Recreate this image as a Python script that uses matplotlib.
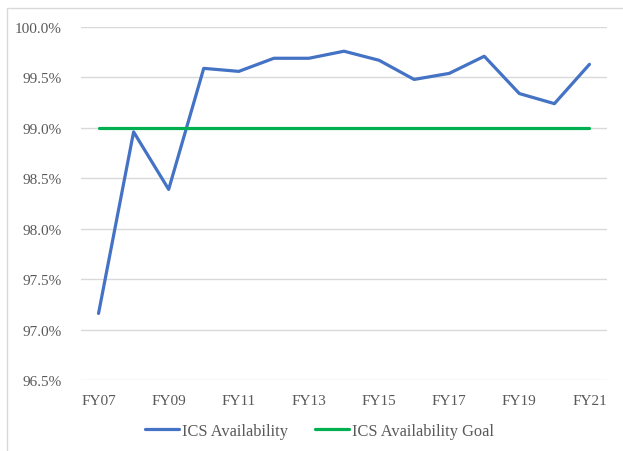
import matplotlib
matplotlib.use("Agg")
import matplotlib.pyplot as plt
from matplotlib.patches import Rectangle
from matplotlib.ticker import FuncFormatter

# ---- Data ----
years = ["FY07", "FY08", "FY09", "FY10", "FY11", "FY12", "FY13", "FY14",
         "FY15", "FY16", "FY17", "FY18", "FY19", "FY20", "FY21"]
availability = [97.16, 98.96, 98.39, 99.59, 99.56, 99.69, 99.69, 99.76,
                99.67, 99.48, 99.54, 99.71, 99.34, 99.24, 99.63]
goal = [99.0] * len(years)

BLUE = "#4472C4"
GREEN = "#00B050"
TEXT = "#595959"
GRID = "#D9D9D9"

plt.rcParams["font.family"] = ["Liberation Serif", "DejaVu Serif"]

fig = plt.figure(figsize=(6.23, 4.52), dpi=100)
ax = fig.add_axes([81 / 623, 1 - 381 / 452, 526 / 623, 353 / 452])

x = list(range(len(years)))
ax.plot(x, availability, color=BLUE, lw=2.3, solid_capstyle="round",
        label="ICS Availability")
ax.plot(x, goal, color=GREEN, lw=2.3, solid_capstyle="round",
        label="ICS Availability Goal")

ax.set_xlim(-0.5, 14.5)
ax.set_ylim(96.5, 100.0)
ax.set_yticks([96.5, 97.0, 97.5, 98.0, 98.5, 99.0, 99.5, 100.0])
ax.yaxis.set_major_formatter(FuncFormatter(lambda v, _: f"{v:.1f}%"))
ax.set_xticks(x[::2])
ax.set_xticklabels(years[::2])

ax.grid(axis="y", color=GRID, lw=1)
ax.set_axisbelow(True)
for s in ax.spines.values():
    s.set_visible(False)
ax.tick_params(length=0, colors=TEXT, labelsize=11)
ax.tick_params(axis="y", pad=14)
ax.tick_params(axis="x", pad=10)

# legend sits a little right of figure centre (centred on the cropped chart box)
leg = fig.legend(loc="center", bbox_to_anchor=(319.5 / 623, 1 - 432 / 452),
                 ncol=2, frameon=False, fontsize=11.8, handlelength=2.1,
                 handletextpad=0.2, columnspacing=1.6)
for t in leg.get_texts():
    t.set_color(TEXT)

# light chart-area border, partly cut off at right/bottom like the reference
fig.patches.append(Rectangle((7 / 623, -0.1), 1.2, 1 - 9 / 452 + 0.1,
                             transform=fig.transFigure, fill=False,
                             edgecolor=GRID, lw=1))

fig.savefig("out.png", dpi=100)
